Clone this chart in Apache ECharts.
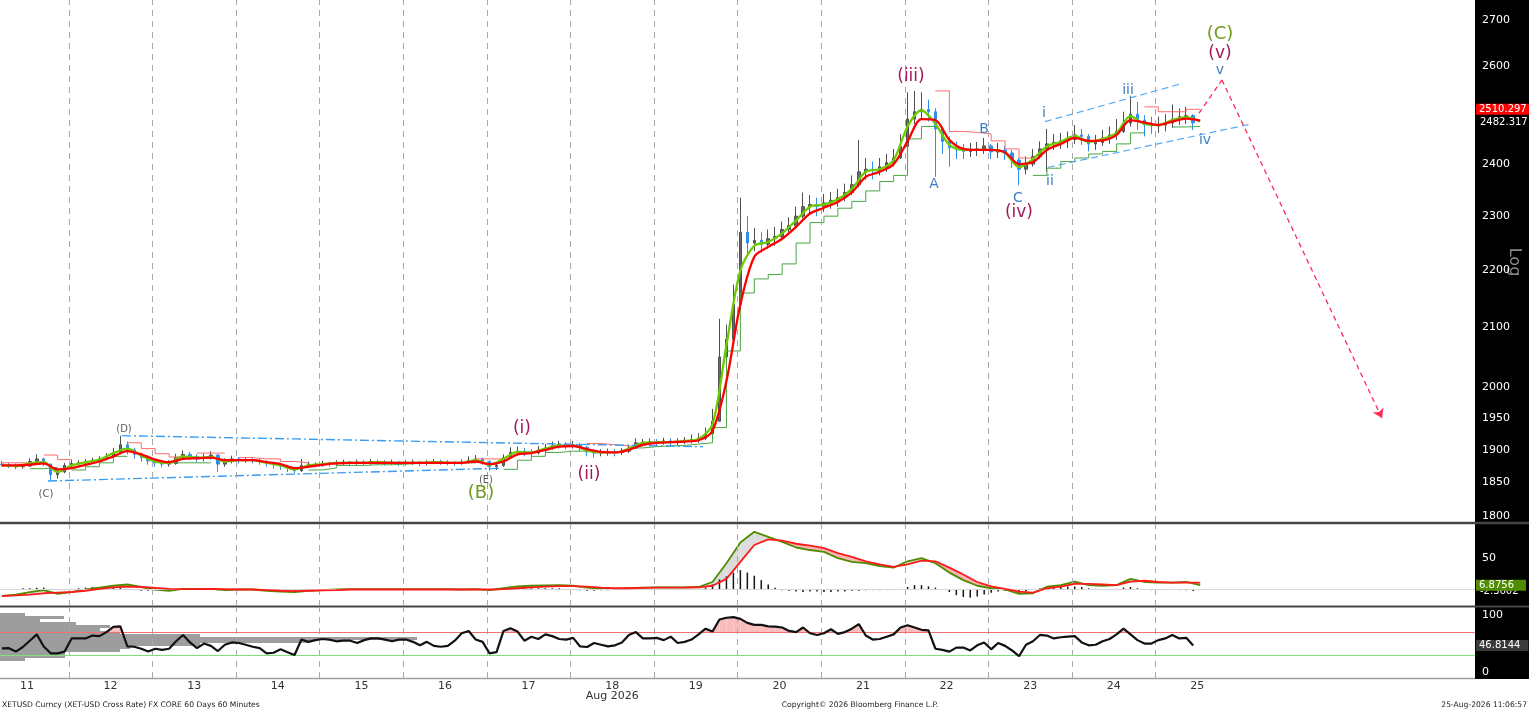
<!DOCTYPE html>
<html>
<head>
<meta charset="utf-8">
<script src="https://cdn.jsdelivr.net/npm/echarts@6/dist/echarts.min.js"></script>
<style>
html, body { margin: 0; padding: 0; background: #fff; }
#axisbg { position: absolute; left: 1475px; top: 0; width: 54px; height: 679px; background: #000; }
#main { position: absolute; left: 0; top: 0; width: 1529px; height: 711px; }
</style>
</head>
<body>
<div id="axisbg"></div>
<div id="main"></div>
<script>
//------------------- data --------------
// 2-hour bars, x in day-of-month (Aug 2026)
var BAR_START = 10.7, BAR_STEP = 1 / 12, LINE_STEP = 1 / 6;
var firstOpen = 1878;
var closes = [1877,1876,1874,1875,1882,1886,1878,1862,1866,1876,
 1879,1880,1882,1884,1886,1890,1896,1908,1900,1893,
 1888,1883,1880,1878,1879,1888,1893,1890,1887,1888,
 1892,1878,1882,1886,1884,1885,1884,1882,1879,1877,
 1875,1872,1868,1876,1878,1877,1879,1878,1880,1881,
 1879,1881,1880,1882,1881,1880,1881,1879,1880,1881,
 1879,1880,1882,1881,1880,1879,1881,1884,1886,1882,
 1874,1876,1888,1896,1898,1897,1895,1900,1903,1907,
 1908,1907,1908,1904,1897,1895,1896,1897,1896,1898,
 1903,1911,1912,1913,1912,1914,1912,1913,1915,1916,
 1918,1925,1945,2050,2080,2140,2270,2250,2255,2248,
 2258,2262,2275,2282,2300,2318,2322,2318,2325,2330,
 2335,2345,2360,2385,2390,2388,2395,2403,2412,2435,
 2490,2505,2510,2505,2470,2445,2432,2428,2425,2428,
 2430,2436,2424,2428,2422,2408,2390,2400,2415,2430,
 2440,2443,2446,2449,2458,2455,2440,2443,2452,2458,
 2465,2482,2500,2488,2478,2476,2478,2482,2490,2495,
 2497,2482.317];
var highs = [1883,1880,1879,1878,1887,1893,1888,1879,1870,1880,
 1884,1884,1886,1888,1890,1895,1903,1922,1913,1903,
 1896,1891,1886,1884,1884,1894,1899,1897,1893,1894,
 1898,1893,1887,1891,1889,1889,1888,1886,1884,1882,
 1880,1877,1874,1886,1882,1881,1883,1882,1884,1885,
 1883,1885,1884,1886,1885,1884,1885,1883,1884,1885,
 1883,1884,1886,1885,1884,1883,1885,1890,1892,1888,
 1884,1881,1893,1904,1905,1903,1901,1906,1909,1913,
 1914,1912,1914,1911,1906,1901,1901,1902,1901,1903,
 1908,1918,1917,1918,1917,1919,1918,1918,1920,1924,
 1926,1935,1965,2115,2105,2175,2335,2300,2278,2270,
 2275,2280,2290,2298,2318,2345,2340,2335,2342,2346,
 2352,2362,2378,2448,2412,2405,2412,2420,2430,2460,
 2545,2548,2545,2530,2512,2475,2455,2445,2440,2442,
 2444,2452,2440,2442,2436,2428,2412,2415,2430,2445,
 2470,2460,2462,2465,2478,2470,2460,2458,2468,2475,
 2490,2505,2538,2525,2498,2495,2495,2500,2520,2512,
 2515,2500];
var lows = [1874,1872,1870,1871,1874,1880,1875,1852,1856,1864,
 1873,1876,1877,1879,1881,1884,1888,1893,1893,1886,
 1882,1877,1874,1873,1874,1877,1885,1884,1881,1882,
 1885,1866,1874,1879,1879,1880,1879,1877,1874,1871,
 1869,1866,1864,1866,1872,1873,1874,1874,1876,1877,
 1875,1877,1876,1877,1877,1876,1877,1875,1876,1877,
 1875,1876,1878,1877,1876,1875,1877,1879,1880,1877,
 1868,1869,1874,1886,1891,1890,1889,1893,1896,1900,
 1902,1901,1902,1898,1890,1888,1890,1891,1890,1892,
 1895,1902,1906,1907,1906,1908,1906,1907,1909,1910,
 1911,1915,1922,1945,2030,2070,2130,2225,2235,2232,
 2240,2245,2255,2265,2278,2296,2305,2300,2308,2314,
 2318,2328,2340,2355,2370,2370,2378,2385,2395,2410,
 2430,2480,2490,2485,2375,2420,2395,2410,2410,2414,
 2416,2420,2410,2412,2408,2392,2359,2380,2395,2410,
 2385,2428,2430,2432,2440,2438,2425,2428,2436,2440,
 2448,2462,2475,2468,2455,2460,2462,2465,2472,2478,
 2480,2468];

// overlays, sampled every 4 hours
var fastMA = [1876,1875,1879,1881,1866,1876,1881,1885,1895,1902,
 1891,1882,1880,1890,1888,1889,1882,1884,1884,1880,
 1876,1870,1876,1878,1880,1880,1880,1881,1880,1880,
 1880,1881,1880,1880,1884,1877,1886,1897,1896,1902,
 1907,1907,1899,1896,1896,1902,1911,1912,1912,1914,
 1917,1940,2070,2200,2245,2252,2268,2292,2318,2322,
 2332,2352,2385,2390,2408,2475,2508,2480,2438,2428,
 2428,2428,2422,2394,2410,2435,2444,2456,2444,2450,
 2462,2496,2480,2478,2488,2494,2485];
var slowMA = [1876,1876,1877,1879,1870,1872,1877,1882,1890,1898,
 1893,1885,1881,1886,1887,1888,1884,1884,1884,1881,
 1878,1872,1874,1877,1879,1880,1880,1880,1880,1880,
 1880,1880,1880,1880,1882,1878,1882,1893,1895,1900,
 1905,1906,1901,1897,1896,1900,1908,1911,1912,1913,
 1915,1930,2010,2140,2225,2243,2258,2280,2305,2316,
 2327,2345,2375,2385,2400,2445,2490,2488,2448,2430,
 2428,2428,2423,2400,2404,2428,2440,2452,2446,2447,
 2458,2488,2483,2478,2485,2491,2487];
var upperTrail = [1880,1880,null,1892,1885,null,null,null,null,1911,
 1902,1894,1889,null,1895,1895,null,1888,1886,1886,
 1882,1880,null,null,null,null,null,null,null,null,
 null,null,null,null,1886,1886,null,null,null,null,
 null,null,1910,1908,1906,1905,null,null,null,null,
 null,null,null,null,null,null,null,null,null,null,
 null,null,null,null,null,null,null,2548,2465,2463,
 2460,2446,2430,2412,null,null,null,null,null,null,
 null,null,2515,2505,2505,2510,2510.297];
var lowerTrail = [null,null,1871,1873,null,1869,1874,1880,1890,null,
 null,null,1880,1880,1880,null,null,null,null,null,
 null,null,1869,1872,1876,1876,1877,1877,1878,1879,
 1879,1880,1880,1880,null,null,1870,1884,1890,1896,
 1898,1898,null,null,null,1903,1905,1906,1907,1909,
 1911,1935,2060,2160,2185,2193,2212,2250,2288,2300,
 2315,2328,2348,2366,2378,2450,2475,null,null,null,
 null,null,null,null,2378,2392,2405,2412,2420,2425,
 2440,2462,null,null,2474,2475,2476];

// MACD panel, every 4 hours
var macdLine = [-10,-8,-4,-1,-7,-4,0,3,6,8,
 4,0,-2,1,1,1,-1,0,0,-2,
 -3.5,-4,-2,-1,0,0.5,0.5,0.5,0.5,0.5,
 0.5,0.5,0.5,0,0.5,-1,2,5,6,6.5,
 7,6,3,1.5,1,2,3,3.5,3.5,3.5,
 4,12,42,75,92,84,76,67,63,60,
 50,44,42,37.5,35,45,50,42,27,15,
 6,2,0,-7,-6,4.5,7,12.5,7,6,
 7,17,12,11,11,12,6.8756];
var signalLine = [-10.5,-9.5,-8,-6,-5,-4,-2,1,3.5,4.5,
 4,2.5,1,0.5,0.5,1,0.5,0,0,-1,
 -2,-2.5,-2,-1.5,-1,0,0,0,0,0,
 0,0,0,0,0,0,0.5,2,3.5,4.5,
 5.5,5.5,4.5,3,2,2,2.5,3,3,3.2,
 3.5,6,17,44,71,80,78,73,70,66,
 58,52,45,40,36,40,46,45,35,24,
 12,5,1,-3.5,-5,2,4.5,9,9,8,
 7,12.5,14,12,11,11,11];
// histogram, every 2 hours
var macdHist = [1,1,1,2,2,3,3,1,0,-1,
 1,2,3,4,4,5,4,3,1,-1,
 -2,-2,-1,0,1,1,2,2,1,1,
 1,-1,-1,0,0,0,0,0,-1,-1,
 -1,-2,-2,-1,-1,0,0.5,0.5,0.5,0.5,
 0.5,0.5,0.5,0.5,0.5,0.5,0.5,0.5,0.5,0.5,
 0.5,0.5,0.5,0.5,0.5,0.5,0.5,1,1,0,
 -1,-1,1,2,3,3,2,2,2,2,
 2,1,0,-1,-2,-2,-1,-1,0,0,
 1,1,1,0.5,0.5,0.5,0.5,0.5,1,1,
 1,3,8,16,21,27,31,27,22,15,
 8,3,-1,-2,-3,-4,-3,-3,-4,-4,
 -3,-3,-2,-2,-1,-1,-1,-1,-1,0,
 4,7,7,5,3,0,-4,-9,-12,-13,
 -11,-8,-5,-3,-2,-4,-5,-3,0,2,
 3,4,5,5,5,4,2,1,0,0,
 1,3,4,2,0,-1,-1,-1,0,-1,
 -1,-2.3602];

// RSI, every 2 hours
var rsi = [41.5,42,36,44,55,66,45,33,33,36,
 59,59,59,64,63,70,79,80,45,44.5,
 41,36,41,39,41,54,65,52,42,50,
 46,37,48,52,51,48,44.5,42,33,34,
 40,35,30,57,53,56,58,57,54,55,
 55,51,56,59,59,57,54,57,57,53,
 47,53,46,44.5,46,55,68,72,57,53,
 33,35,72,76.6,71,55,62,58,66,63,
 58,57,60,45,44,51,48,45,47,52,
 65,70,59,59,60,56,62,51,53,57,
 66,76,71,92,95,96,93,86,82.5,82.5,
 80,79.6,78,72,70,78,68,65,68,75,
 67,70,76,84,64,57,58,62,66,78,
 82,78,74,73,41,39,36,43,43,38,
 47,52,40,51,46,38,28,48,54,65,
 64,59,61,62,63,52,47,48,54,58,
 66,76,66,56,50,50,56,59,65,59,
 60,46.8144];
var RSI_HIGH = 70, RSI_LOW = 30;

// volume-at-price profile drawn in the lower panel (top bin first)
var profileVol = [25,64,40,76,110,100,120,200,417,310,200,130,120,65,65,25];

// axis ticks
var dayTicks = [11,12,13,14,15,16,17,18,19,20,21,22,23,24,25];
var priceTicks = [2700,2600,2400,2300,2200,2100,2000,1950,1900,1850,1800];

// drawn trend lines [day, price]
var triUpper = [[12.136, 1922.2], [19.086, 1904.9]];
var triLower = [[11.251, 1852.2], [16.658, 1871.6]];
var chanUpper = [[23.177, 2484.8], [24.828, 2564]];
var chanLower = [[23.213, 2393.9], [25.630, 2479.5]];
var projection = [[25.02, 2502], [25.294, 2571], [27.208, 1950]];

// wave labels [text, day, price, style]
var waveLabels = [
  ['(C)', 11.227, 1832.7, 'grey'], ['(D)', 12.160, 1932.7, 'grey'],
  ['(E)', 16.490, 1853.8, 'grey'], ['(B)', 16.431, 1834.2, 'olive'],
  ['(i)', 16.921, 1932.7, 'purple'], ['(ii)', 17.722, 1861.4, 'purple'],
  ['(iii)', 21.574, 2577.4, 'purple'], ['(iv)', 22.866, 2306, 'purple'],
  ['(v)', 25.270, 2626.3, 'purple'], ['(C)', 25.270, 2669.5, 'olive'],
  ['v', 25.270, 2592, 'blue'], ['A', 21.849, 2361.3, 'blue'],
  ['B', 22.447, 2470, 'blue'], ['C', 22.854, 2334.5, 'blue'],
  ['i', 23.165, 2502.6, 'blue'], ['ii', 23.237, 2367, 'blue'],
  ['iii', 24.170, 2550, 'blue'], ['iv', 25.091, 2447.8, 'blue']
];
var waveStyle = {
  grey: { color: '#5a5a5a', size: 10 },
  olive: { color: '#6f9a1c', size: 18 },
  purple: { color: '#a3195b', size: 17 },
  blue: { color: '#3d7fc4', size: 14 }
};

//------------------- build series data --------------
var FONT = 'DejaVu Sans';
var CLEAR = 'rgba(0,0,0,0)';
function barX(i) { return BAR_START + i * BAR_STEP; }
function lineX(j) { return BAR_START + j * LINE_STEP; }
function toPairs(arr, fx) { return arr.map(function (v, i) { return [fx(i), v]; }); }

var candleData = closes.map(function (c, i) {
  var o = i === 0 ? firstOpen : closes[i - 1];
  return [barX(i), o, c, lows[i], highs[i]];
});

// shaded gap between MACD and signal, split where they cross
function macdFill(params, api) {
  var j = params.dataIndex;
  if (j >= macdLine.length - 1) return null;
  var x0 = lineX(j), x1 = lineX(j + 1);
  var d0 = macdLine[j] - signalLine[j], d1 = macdLine[j + 1] - signalLine[j + 1];
  function poly(pts, up) {
    return { type: 'polygon', shape: { points: pts.map(function (p) { return api.coord(p); }) },
      style: { fill: up ? '#dcdcdc' : '#f7b4b4' } };
  }
  if (d0 * d1 >= 0) {
    return poly([[x0, macdLine[j]], [x1, macdLine[j + 1]], [x1, signalLine[j + 1]], [x0, signalLine[j]]], d0 + d1 >= 0);
  }
  var t = d0 / (d0 - d1), xc = x0 + t * (x1 - x0);
  var yc = macdLine[j] + t * (macdLine[j + 1] - macdLine[j]);
  return { type: 'group', children: [
    poly([[x0, macdLine[j]], [xc, yc], [x0, signalLine[j]]], d0 > 0),
    poly([[xc, yc], [x1, macdLine[j + 1]], [x1, signalLine[j + 1]]], d1 > 0)
  ] };
}
// pink shading where RSI is above the upper band
function rsiFill(params, api) {
  var i = params.dataIndex;
  if (i >= rsi.length - 1) return null;
  var a = rsi[i], b = rsi[i + 1], xa = barX(i), xb = barX(i + 1), pts;
  if (a <= RSI_HIGH && b <= RSI_HIGH) return null;
  if (a > RSI_HIGH && b > RSI_HIGH) {
    pts = [[xa, RSI_HIGH], [xa, a], [xb, b], [xb, RSI_HIGH]];
  } else {
    var xc = xa + (RSI_HIGH - a) / (b - a) * (xb - xa);
    pts = a > RSI_HIGH ? [[xa, RSI_HIGH], [xa, a], [xc, RSI_HIGH]] : [[xc, RSI_HIGH], [xb, b], [xb, RSI_HIGH]];
  }
  return { type: 'polygon', shape: { points: pts.map(function (p) { return api.coord(p); }) },
    style: { fill: '#f9bcbc' } };
}

var gridDays = dayTicks.slice(0, -1).map(function (d) { return { xAxis: d + 0.5 }; });
var dashStyle = { color: '#a9a9a9', type: [6, 5], width: 1 };
var dayLines = {
  silent: true, symbol: 'none', animation: false,
  lineStyle: dashStyle, label: { show: false }, data: gridDays
};
function tag(v, text, extra) {
  var item = { yAxis: v, name: text };
  if (extra) item.label = extra;
  return item;
}
// last-value tags are a touch smaller so they fit the 54px strip
function valueTag(v, text, bg, pad) {
  var lab = { fontSize: 10, distance: bg ? 1 : 5 };
  if (bg) { lab.backgroundColor = bg; lab.padding = pad; }
  return tag(v, text, lab);
}
function level(v, color) {
  return { yAxis: v, name: '', lineStyle: { color: color, width: 1, type: 'solid' }, label: { show: false } };
}
function seg(a, b, style, arrow) {
  return [{ coord: a, symbol: 'none', lineStyle: style },
          { coord: b, symbol: arrow ? 'arrow' : 'none' }];
}
var axisLabelStyle = { position: 'end', distance: 7, color: '#fff', fontSize: 11, fontFamily: FONT, formatter: '{b}' };
var triStyle = { color: '#3b9cf0', type: [9, 3, 2, 3], width: 1.4 };
var chanStyle = { color: '#5aaaf5', type: [7, 4], width: 1.2 };
var projStyle = { color: '#ff2a55', type: [5, 4], width: 1.3 };

var X_MIN = 10.677, X_MAX = 28.321;
function xAxisFor(i, show) {
  return {
    type: 'value', gridIndex: i, min: X_MIN, max: X_MAX, show: show,
    axisLine: { show: false }, axisTick: { show: false }, splitLine: { show: false },
    axisLabel: {
      customValues: dayTicks, color: '#333', fontSize: 11, fontFamily: FONT, margin: 3, lineHeight: 10,
      formatter: function (v) { return v === 18 ? '18\nAug 2026' : String(v); }
    }
  };
}

var option = {
  animation: false,
  grid: [
    { left: 0, top: 0, width: 1475, height: 522 },
    { left: 0, top: 524, width: 1475, height: 82 },
    { left: 0, top: 608, width: 1475, height: 70 },
    { left: 0, top: 613, width: 1475, height: 48 }
  ],
  xAxis: [
    xAxisFor(0, false), xAxisFor(1, false), xAxisFor(2, true),
    { type: 'value', gridIndex: 3, min: 0, max: 1475, show: false }
  ],
  yAxis: [
    { type: 'log', gridIndex: 0, min: 1791.2, max: 2744.6, show: false },
    { type: 'value', gridIndex: 1, min: -26.3, max: 104.5, show: false },
    { type: 'value', gridIndex: 2, min: -10, max: 112, show: false },
    { type: 'category', gridIndex: 3, inverse: true, show: false,
      data: profileVol.map(function (v, i) { return 'bin' + i; }) }
  ],
  series: [
    //----------- price panel -----------
    {
      type: 'candlestick', name: 'XETUSD', xAxisIndex: 0, yAxisIndex: 0, z: 2,
      data: candleData, encode: { x: 0, y: [1, 2, 3, 4] }, barWidth: 3, clip: false,
      itemStyle: { color: '#6a6a6a', color0: '#2f8ff0', borderColor: '#505050', borderColor0: '#2f8ff0', borderWidth: 1 },
      markLine: {
        silent: true, animation: false, symbolSize: 9, label: { show: false },
        data: [
          seg(triUpper[0], triUpper[1], triStyle), seg(triLower[0], triLower[1], triStyle),
          seg(chanUpper[0], chanUpper[1], chanStyle), seg(chanLower[0], chanLower[1], chanStyle),
          seg(projection[0], projection[1], projStyle), seg(projection[1], projection[2], projStyle, true)
        ]
      },
      markPoint: {
        silent: true, animation: false, symbol: 'circle', symbolSize: 0,
        data: waveLabels.map(function (w) {
          var s = waveStyle[w[3]];
          return { coord: [w[1], w[2]], label: { show: true, position: 'inside', formatter: w[0],
            color: s.color, fontSize: s.size, fontFamily: FONT } };
        })
      }
    },
    { type: 'line', name: 'upper trail', xAxisIndex: 0, yAxisIndex: 0, z: 3, step: 'end',
      data: toPairs(upperTrail, lineX), symbol: 'none', lineStyle: { color: '#ff6b6b', width: 1 } },
    { type: 'line', name: 'lower trail', xAxisIndex: 0, yAxisIndex: 0, z: 3, step: 'end',
      data: toPairs(lowerTrail, lineX), symbol: 'none', lineStyle: { color: '#4aa642', width: 1 } },
    { type: 'line', name: 'fast MA', xAxisIndex: 0, yAxisIndex: 0, z: 4, smooth: 0.3,
      data: toPairs(fastMA, lineX), symbol: 'none', lineStyle: { color: '#6ccc00', width: 2.3 },
      markLine: dayLines },
    { type: 'line', name: 'slow MA', xAxisIndex: 0, yAxisIndex: 0, z: 5, smooth: 0.3, clip: false,
      data: toPairs(slowMA, lineX), symbol: 'none', lineStyle: { color: '#ff0000', width: 2.3 },
      markLine: {
        silent: true, symbol: 'none', animation: false, lineStyle: { color: CLEAR, width: 0 },
        label: axisLabelStyle,
        data: priceTicks.map(function (v) { return tag(v, String(v)); }).concat([
          valueTag(2482.317, '2482.317'),
          valueTag(2510.297, '2510.297', '#f00', [1, 4, 0, 3])
        ])
      }
    },
    //----------- MACD panel -----------
    { type: 'custom', xAxisIndex: 1, yAxisIndex: 1, z: 1, silent: true,
      data: toPairs(macdLine, lineX), encode: { x: 0, y: 1 }, renderItem: macdFill },
    { type: 'bar', xAxisIndex: 1, yAxisIndex: 1, data: toPairs(macdHist, barX), barWidth: 1.5,
      itemStyle: { color: '#151515' }, z: 2 },
    { type: 'line', name: 'MACD', xAxisIndex: 1, yAxisIndex: 1, z: 4,
      data: toPairs(macdLine, lineX), symbol: 'none', lineStyle: { color: '#4f8c00', width: 1.8 },
      markLine: dayLines },
    { type: 'line', name: 'signal', xAxisIndex: 1, yAxisIndex: 1, z: 5, clip: false,
      data: toPairs(signalLine, lineX), symbol: 'none', lineStyle: { color: '#ff1a1a', width: 1.8 },
      markLine: {
        silent: true, symbol: 'none', animation: false, lineStyle: { color: CLEAR, width: 0 },
        label: axisLabelStyle,
        data: [
          level(0, '#d8d8d8'),
          tag(50, '50'),
          valueTag(-2.3602, '-2.3602'),
          valueTag(6.8756, '6.8756', '#4f8c00', [1, 12, 0, 3])
        ]
      }
    },
    //----------- RSI panel -----------
    { type: 'bar', xAxisIndex: 3, yAxisIndex: 3, data: profileVol, barCategoryGap: '0%',
      itemStyle: { color: '#9d9d9d' }, z: 1 },
    { type: 'custom', xAxisIndex: 2, yAxisIndex: 2, z: 2, silent: true,
      data: toPairs(rsi, barX), encode: { x: 0, y: 1 }, renderItem: rsiFill },
    { type: 'line', name: 'RSI', xAxisIndex: 2, yAxisIndex: 2, z: 5, clip: false,
      data: toPairs(rsi, barX), symbol: 'none', lineStyle: { color: '#111', width: 2.2 },
      markLine: {
        silent: true, symbol: 'none', animation: false,
        lineStyle: { color: CLEAR, width: 0 },
        label: axisLabelStyle,
        data: gridDays.map(function (d) {
          return { xAxis: d.xAxis, lineStyle: dashStyle, label: { show: false } };
        }).concat([
          level(RSI_HIGH, '#f07070'), level(RSI_LOW, '#7fe07f'),
          tag(100, '100'), tag(0, '0'),
          valueTag(46.8144, '46.8144', '#3a3a3a', [1, 8, 0, 3])
        ])
      }
    }
  ],
  graphic: [
    { type: 'line', silent: true, shape: { x1: 0, y1: 523, x2: 1529, y2: 523 }, style: { stroke: '#444', lineWidth: 2.5 } },
    { type: 'line', silent: true, shape: { x1: 0, y1: 606.5, x2: 1529, y2: 606.5 }, style: { stroke: '#444', lineWidth: 2 } },
    { type: 'line', silent: true, shape: { x1: 0, y1: 678.5, x2: 1475, y2: 678.5 }, style: { stroke: '#a0a0a0', lineWidth: 1.5 } },
    { type: 'text', silent: true, x: 1514, y: 262, rotation: -Math.PI / 2,
      style: { text: 'Log', fill: '#8a8a8a', font: '16px "DejaVu Sans"', align: 'center', verticalAlign: 'middle' } },
    { type: 'text', silent: true, x: 2, y: 705,
      style: { text: 'XETUSD Curncy (XET-USD Cross Rate) FX CORE 60 Days 60 Minutes', fill: '#222', font: '7.6px "DejaVu Sans"', align: 'left', verticalAlign: 'middle' } },
    { type: 'text', silent: true, x: 860, y: 705,
      style: { text: 'Copyright\u00a9 2026 Bloomberg Finance L.P.', fill: '#222', font: '7.6px "DejaVu Sans"', align: 'center', verticalAlign: 'middle' } },
    { type: 'text', silent: true, x: 1527, y: 705,
      style: { text: '25-Aug-2026 11:06:57', fill: '#222', font: '7.6px "DejaVu Sans"', align: 'right', verticalAlign: 'middle' } }
  ]
};

echarts.init(document.getElementById('main')).setOption(option);
</script>
</body>
</html>
